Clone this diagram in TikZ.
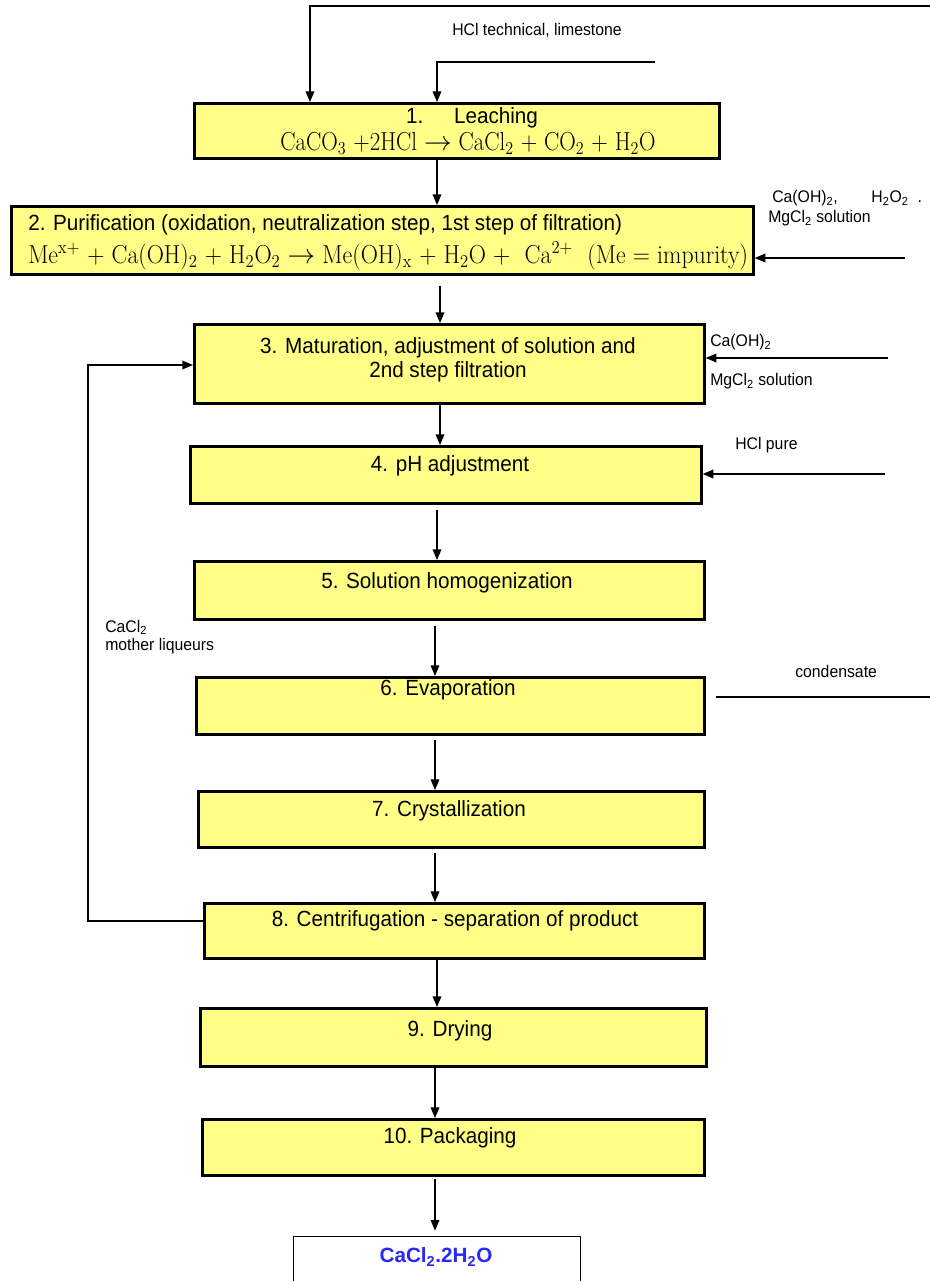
\documentclass[tikz,border=0pt]{standalone}
\usepackage{fontspec}
\newfontfamily\arial[FakeStretch=0.94]{Liberation Sans}
\newfontfamily\arialb{Liberation Sans}
\newfontfamily\eqfont[FakeStretch=0.88]{Latin Modern Roman}
\newfontfamily\eqfontw[FakeStretch=0.915]{Latin Modern Roman}
\usetikzlibrary{arrows.meta,calc}
\definecolor{boxyellow}{RGB}{255,255,136}
\definecolor{prodblue}{RGB}{40,40,255}
\newcommand\pbox[5]{\node[procbox,minimum width={(#4-#2)*0.75pt},minimum height={(#5-#3)*0.75pt}] (#1) at (#2,#3) {};}
\newcommand\sbs[1]{\textsubscript{#1}}
\newcommand\sps[1]{\textsuperscript{#1}}
\begin{document}
\begin{tikzpicture}[x=0.75pt,y=-0.75pt,
  procbox/.style={draw=black,line width=2pt,fill=boxyellow,inner sep=0pt,anchor=north west},
  main/.style={font=\arial\fontsize{16.5}{16}\selectfont,inner sep=0pt},
  small/.style={font=\arial\fontsize{12.6}{14}\selectfont,inner sep=0pt},
  eqn/.style={font=\eqfont\fontsize{19.5}{19}\selectfont,inner sep=0pt},
  eqnw/.style={font=\eqfontw\fontsize{19.5}{19}\selectfont,inner sep=0pt},
  arr/.style={line width=1pt,-{Triangle[length=8pt,width=6.5pt]}},
  feedline/.style={line width=1pt}]
\useasboundingbox (0,0) rectangle (930,1281);
\clip (0,0) rectangle (930,1281);
% boxes
\pbox{b1}{193}{102}{718}{157}
\pbox{b2}{10}{205}{752}{273}
\pbox{b3}{193}{323}{703}{402}
\pbox{b4}{189}{445}{700}{502}
\pbox{b5}{193}{560}{703}{618}
\pbox{b6}{195}{676}{703}{733}
\pbox{b7}{197}{790}{703}{846}
\pbox{b8}{203}{902}{703}{957}
\pbox{b9}{199}{1007}{705}{1065}
\pbox{b10}{201}{1118}{703}{1174}
\node[draw=black,line width=1pt,fill=white,inner sep=0pt,anchor=north west,
  minimum width={287*0.75pt},minimum height={70*0.75pt}] (prod) at (293,1236) {};
% box texts
\node[main] (t1) at (472,118) {1.\hspace{1.4em}Leaching};
\node[eqn] (e1) at (468,144) {CaCO\sbs{3} +2HCl $\rightarrow$ CaCl\sbs{2} + CO\sbs{2} + H\sbs{2}O};
\node[main,anchor=west] (t2) at (28,225) {2. Purification (oxidation, neutralization step, 1st step of filtration)};
\node[eqnw,anchor=west] (e2) at (28,256) {Me\sps{x+} + Ca(OH)\sbs{2} + H\sbs{2}O\sbs{2} $\rightarrow$ Me(OH)\sbs{x} + H\sbs{2}O +\ \ Ca\sps{2+}\ \ (Me = impurity)};
\node[main,align=center] (t3) at (448,360) {3. Maturation, adjustment of solution and\\[2pt]2nd step filtration};
\node[main] (t4) at (450,466) {4. pH adjustment};
\node[main] (t5) at (447,583) {5. Solution homogenization};
\node[main] (t6) at (448,690) {6. Evaporation};
\node[main] (t7) at (449,811) {7. Crystallization};
\node[main] (t8) at (455,921) {8. Centrifugation - separation of product};
\node[main] (t9) at (450,1031) {9. Drying};
\node[main] (t10) at (450,1138) {10. Packaging};
\node[font=\arialb\bfseries\fontsize{15.5}{18}\selectfont,text=prodblue,inner sep=0pt] (tp) at (436,1257) {CaCl\sbs{2}.2H\sbs{2}O};
% side labels
\node[small] (l0) at (537,30) {HCl technical, limestone};
\node[small,anchor=west] (l2a) at (772,198) {Ca(OH)\sbs{2},\qquad H\sbs{2}O\sbs{2}\ \ .};
\node[small,anchor=west] (l2b) at (768,218) {MgCl\sbs{2} solution};
\node[small,anchor=west] (l3a) at (710,342) {Ca(OH)\sbs{2}};
\node[small,anchor=west] (l3b) at (710,381) {MgCl\sbs{2} solution};
\node[small,anchor=west] (l4) at (735,445) {HCl pure};
\node[small,anchor=west] (l6) at (795,671) {condensate};
\node[small,anchor=west,align=left] (lm) at (105,637) {CaCl\sbs{2}\\mother liqueurs};
% top inputs
\coordinate (tA) at (930,6);
\coordinate (tB) at (655,62);
\draw[arr] (tA) -| (b1.north -| 310,0);
\draw[arr] (tB) -| (b1.north -| 437,0);
% main flow
\draw[arr] (b1.south -| 437,0) -- (b2.north -| 437,0);
\draw[arr,shorten <=7.5pt] (b2.south -| 440,0) -- (b3.north -| 440,0);
\draw[arr] (b3.south -| 440,0) -- (b4.north -| 440,0);
\draw[arr,shorten <=3.75pt] (b4.south -| 437,0) -- (b5.north -| 437,0);
\draw[arr,shorten <=3.75pt] (b5.south -| 435,0) -- (b6.north -| 435,0);
\draw[arr,shorten <=3pt] (b6.south -| 435,0) -- (b7.north -| 435,0);
\draw[arr,shorten <=3pt] (b7.south -| 435,0) -- (b8.north -| 435,0);
\draw[arr] (b8.south -| 437,0) -- (b9.north -| 437,0);
\draw[arr] (b9.south -| 435,0) -- (b10.north -| 435,0);
\draw[arr,shorten <=2pt,shorten >=4pt] (b10.south -| 435,0) -- (prod.north -| 435,0);
% right inputs
\coordinate (r2) at (905,258);
\coordinate (r3) at (888,358);
\coordinate (r4) at (885,474);
\draw[arr] (r2) -- (b2.east |- r2);
\draw[arr] (r3) -- (b3.east |- r3);
\draw[arr] (r4) -- (b4.east |- r4);
% condensate
\coordinate (c6) at (930,697);
\draw[feedline] ($(b6.east |- c6)+(10,0)$) -- (c6);
% recycle loop
\coordinate (fb) at (88,365);
\draw[arr] (b8.west |- 0,921) -| (fb) -- (b3.west |- fb);
\end{tikzpicture}
\end{document}
